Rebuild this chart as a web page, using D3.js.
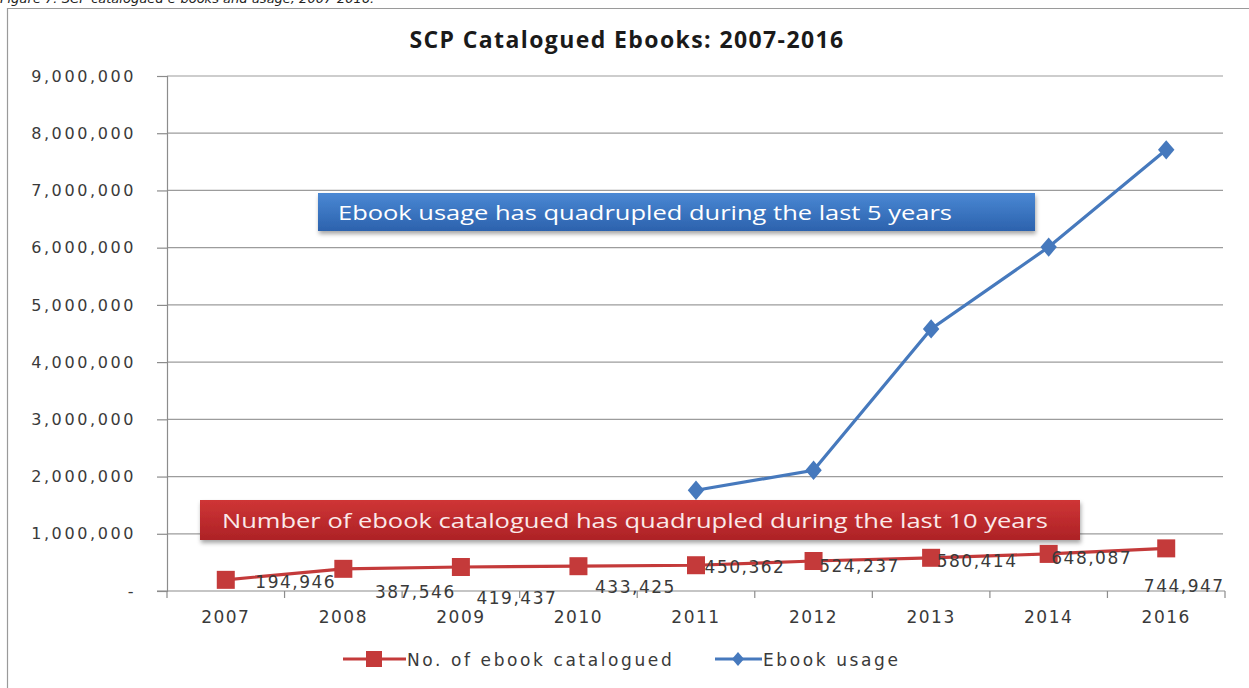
<!DOCTYPE html>
<html>
<head>
<meta charset="utf-8">
<script src="https://cdn.jsdelivr.net/npm/d3@7"></script>
<style>
  body { margin: 0; background: #fff; }
  svg { display: block; }
</style>
</head>
<body>
<script>
// data
var years = ["2007", "2008", "2009", "2010", "2011", "2012", "2013", "2014", "2016"];
var catalogued = [194946, 387546, 419437, 433425, 450362, 524237, 580414, 648087, 744947];
var usageYears = ["2011", "2012", "2013", "2014", "2016"];
var usage = [1760000, 2110000, 4580000, 6010000, 7710000];
var yTicks = [0, 1000000, 2000000, 3000000, 4000000, 5000000, 6000000, 7000000, 8000000, 9000000];

// where the labels of the red series sit, relative to their point
var labelNudge = [[70, 8], [72, 29], [56, 37], [57, 27], [49, 8], [46, 11], [46, 9], [43, 10], [18, 44]];

(function() {
var width = 1249,
    height = 688;
var svg = d3.select("body").append("svg")
    .attr("width", width)
    .attr("height", height);

var defs = svg.append("defs");
var gb = defs.append("linearGradient").attr("id", "gblue").attr("x1", 0).attr("y1", 0).attr("x2", 0).attr("y2", 1);
gb.append("stop").attr("offset", "0%").attr("stop-color", "#4a88d4");
gb.append("stop").attr("offset", "100%").attr("stop-color", "#2c62ad");
var gr = defs.append("linearGradient").attr("id", "gred").attr("x1", 0).attr("y1", 0).attr("x2", 0).attr("y2", 1);
gr.append("stop").attr("offset", "0%").attr("stop-color", "#cf3535");
gr.append("stop").attr("offset", "100%").attr("stop-color", "#ad2226");
var sh = defs.append("filter").attr("id", "shadow").attr("x", "-5%").attr("y", "-20%").attr("width", "110%").attr("height", "160%");
sh.append("feDropShadow").attr("dx", 1).attr("dy", 3).attr("stdDeviation", 2).attr("flood-color", "#000").attr("flood-opacity", 0.35);

// caption cut off at the top of the picture
svg.append("text")
    .attr("x", 0).attr("y", 3)
    .style("font-family", "DejaVu Sans")
    .style("font-style", "italic")
    .style("font-size", "13px")
    .attr("fill", "#222")
    .text("Figure 7: SCP catalogued e-books and usage, 2007-2016.");

// frame
svg.append("path")
    .attr("d", "M7.5,688 V8.5 H1249")
    .attr("fill", "none")
    .attr("stroke", "#9a9a9a")
    .attr("stroke-width", 1.2);

var mLeft = 167, mRight = 1225, mTop = 76, mBottom = 591;

var x = d3.scaleBand().domain(years).range([mLeft, mRight]);
var y = d3.scaleLinear().domain([0, 9000000]).range([mBottom, mTop]);
var cx = function(yr) { return x(yr) + x.bandwidth() / 2; };

var numFont = "DejaVu Sans";
var textCol = "#3a3a3a";

// gridlines
svg.append("g").selectAll("line").data(yTicks.slice(1)).enter().append("line")
    .attr("x1", mLeft).attr("x2", 1223)
    .attr("y1", function(d) { return y(d); })
    .attr("y2", function(d) { return y(d); })
    .attr("stroke", "#9c9c9c").attr("stroke-width", 1.2);

// y axis
var yAxis = d3.axisLeft(y).tickValues(yTicks).tickSize(10).tickPadding(21)
    .tickFormat(function(d) { return d === 0 ? "-" : d3.format(",")(d); });
var gy = svg.append("g").attr("transform", "translate(" + mLeft + ",0)").call(yAxis);
gy.select(".domain").attr("stroke", "#8c8c8c").attr("stroke-width", 1.2);
gy.selectAll(".tick line").attr("stroke", "#8c8c8c").attr("stroke-width", 1.2);
gy.selectAll(".tick text")
    .style("font-family", numFont).style("font-size", "16px")
    .style("letter-spacing", "2.6px")
    .attr("fill", textCol);

// x axis
var gx = svg.append("g").attr("transform", "translate(0," + mBottom + ")");
gx.append("line").attr("x1", mLeft - 10).attr("x2", mRight).attr("stroke", "#8c8c8c").attr("stroke-width", 1.2);
gx.selectAll("line.tk").data(years.concat(["end"])).enter().append("line")
    .attr("class", "tk")
    .attr("x1", function(d, i) { return mLeft + i * x.step(); })
    .attr("x2", function(d, i) { return mLeft + i * x.step(); })
    .attr("y1", 0).attr("y2", 7)
    .attr("stroke", "#8c8c8c").attr("stroke-width", 1.2);
gx.selectAll("text").data(years).enter().append("text")
    .attr("x", function(d) { return cx(d); })
    .attr("y", 32)
    .attr("text-anchor", "middle")
    .style("font-family", numFont).style("font-size", "17px")
    .style("letter-spacing", "1.5px")
    .attr("fill", textCol)
    .text(function(d) { return d; });

// title
svg.append("text")
    .attr("x", 627).attr("y", 48)
    .attr("text-anchor", "middle")
    .style("font-family", "Open Sans").style("font-weight", "bold")
    .style("font-size", "23px")
    .style("letter-spacing", "1.4px")
    .attr("fill", "#1a1a1a")
    .text("SCP Catalogued Ebooks: 2007-2016");

// blue annotation
svg.append("rect")
    .attr("x", 318).attr("y", 193).attr("width", 717).attr("height", 38)
    .attr("fill", "url(#gblue)").attr("filter", "url(#shadow)");
svg.append("text")
    .attr("x", 338).attr("y", 220)
    .style("font-family", "Open Sans").style("font-size", "20px")
    .attr("textLength", 614).attr("lengthAdjust", "spacingAndGlyphs")
    .attr("fill", "#fff")
    .text("Ebook usage has quadrupled during the last 5 years");

// usage line
var lineU = d3.line()
    .x(function(d, i) { return cx(usageYears[i]); })
    .y(function(d) { return y(d); });
svg.append("path")
    .attr("d", lineU(usage))
    .attr("fill", "none").attr("stroke", "#4679bd").attr("stroke-width", 3.2);
svg.append("g").selectAll("path").data(usage).enter().append("path")
    .attr("d", d3.symbol().type(d3.symbolDiamond).size(150))
    .attr("transform", function(d, i) { return "translate(" + cx(usageYears[i]) + "," + y(d) + ") scale(1.25,0.85)"; })
    .attr("fill", "#4679bd");

// red annotation
svg.append("rect")
    .attr("x", 200).attr("y", 500).attr("width", 880).attr("height", 40)
    .attr("fill", "url(#gred)").attr("filter", "url(#shadow)");
svg.append("text")
    .attr("x", 222).attr("y", 528)
    .style("font-family", "Open Sans").style("font-size", "20px")
    .attr("textLength", 826).attr("lengthAdjust", "spacingAndGlyphs")
    .attr("fill", "#fbe9e9")
    .text("Number of ebook catalogued has quadrupled during the last 10 years");

// catalogued line
var lineC = d3.line()
    .x(function(d, i) { return cx(years[i]); })
    .y(function(d) { return y(d); });
svg.append("path")
    .attr("d", lineC(catalogued))
    .attr("fill", "none").attr("stroke", "#c43a3a").attr("stroke-width", 3.2);
svg.append("g").selectAll("rect").data(catalogued).enter().append("rect")
    .attr("x", function(d, i) { return cx(years[i]) - 9; })
    .attr("y", function(d) { return y(d) - 9; })
    .attr("width", 18).attr("height", 18)
    .attr("fill", "#c43a3a");

svg.append("g").selectAll("text").data(catalogued).enter().append("text")
    .attr("x", function(d, i) { return cx(years[i]) + labelNudge[i][0]; })
    .attr("y", function(d, i) { return y(d) + labelNudge[i][1]; })
    .attr("text-anchor", "middle")
    .style("font-family", numFont).style("font-size", "17px")
    .style("letter-spacing", "1.5px")
    .attr("fill", textCol)
    .text(function(d) { return d3.format(",")(d); });

// legend
var lg = svg.append("g");
lg.append("line").attr("x1", 343).attr("x2", 406).attr("y1", 659).attr("y2", 659)
    .attr("stroke", "#c43a3a").attr("stroke-width", 3.2);
lg.append("rect").attr("x", 366).attr("y", 651).attr("width", 16).attr("height", 16).attr("fill", "#c43a3a");
lg.append("text").attr("x", 407).attr("y", 666)
    .style("font-family", numFont).style("font-size", "17px").style("letter-spacing", "2.6px")
    .attr("fill", textCol).text("No. of ebook catalogued");
lg.append("line").attr("x1", 715).attr("x2", 762).attr("y1", 659).attr("y2", 659)
    .attr("stroke", "#4679bd").attr("stroke-width", 3.2);
lg.append("path").attr("d", d3.symbol().type(d3.symbolDiamond).size(80))
    .attr("transform", "translate(738,659) scale(1.25,0.85)").attr("fill", "#4679bd");
lg.append("text").attr("x", 763).attr("y", 666)
    .style("font-family", numFont).style("font-size", "17px").style("letter-spacing", "2.6px")
    .attr("fill", textCol).text("Ebook usage");
})();
</script>
</body>
</html>
